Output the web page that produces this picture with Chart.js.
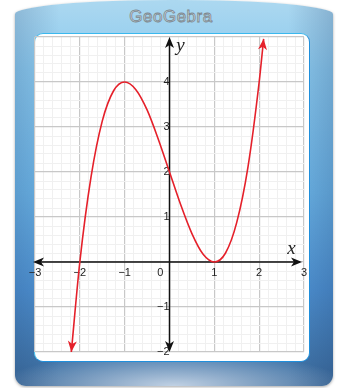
<!DOCTYPE html>
<html>
<head>
<meta charset="utf-8">
<script src="https://cdn.jsdelivr.net/npm/chart.js@4.4.1/dist/chart.umd.min.js"></script>
<style>
  html, body { margin: 0; padding: 0; background: #fff; }
  #wrap { position: relative; width: 342px; height: 388px; overflow: hidden; }
  #frame {
    position: absolute; left: 15px; top: 0; width: 318px; height: 386px;
    border-radius: 159px 159px 11px 11px / 14px 14px 11px 11px;
    background:
      radial-gradient(ellipse 55% 9% at 50% 100%, rgba(200,215,232,0.95), rgba(200,215,232,0)),
      linear-gradient(to right, rgba(20,50,100,0.18), rgba(20,50,100,0) 14%, rgba(20,50,100,0) 86%, rgba(20,50,100,0.22)),
      linear-gradient(to bottom, #acd8f0 0%, #8ccaee 18%, #6cb4e6 50%, #4f92d2 75%, #3d6c9c 100%);
    box-shadow: 0 1px 3px rgba(0,0,0,0.35);
  }
  #panel {
    position: absolute; left: 34px; top: 33px; width: 274px; height: 327px;
    background: #fff; border-radius: 9px;
    border: 1.5px solid; border-color: #3ab8ee #1f8fdc #1f8fdc #4cc6f2;
  }
  #title {
    position: absolute; left: 0; top: 7px; width: 342px; text-align: center;
    font: 17px "Liberation Sans", sans-serif; letter-spacing: 0.5px;
    color: #d2dde3; -webkit-text-stroke: 0.8px #7c878e;
  }
  canvas { position: absolute; left: 0; top: 0; }
</style>
</head>
<body>
<div id="wrap">
  <div id="frame"></div>
  <div id="panel"></div>
  <div id="title">GeoGebra</div>
  <canvas id="chart" width="342" height="388"></canvas>
</div>
<script>
// points
const curveX = [-2.19, -2, -1.75, -1.5, -1.25, -1, -0.75, -0.5, -0.25, 0, 0.25, 0.5, 0.75, 1, 1.25, 1.5, 1.75, 2, 2.1];
const curveY = [-2, 0, 1.89, 3.13, 3.8, 4, 3.83, 3.38, 2.73, 2, 1.27, 0.63, 0.17, 0, 0.2, 0.88, 2.11, 4, 4.96];

// labelled ticks on each axis
const xLabels = [-3, -2, -1, 0, 1, 2, 3];
const yLabels = [-2, -1, 1, 2, 3, 4];

const points = curveX.map((x, i) => ({ x: x, y: curveY[i] }));

const isMajor = v => Math.abs(v - Math.round(v)) < 1e-6;
const minus = v => String(v).replace('-', '\u2212');

function head(ctx, tx, ty, ang, color) {
  const len = 11, half = 4.5, notch = 3;
  ctx.save();
  ctx.translate(tx, ty);
  ctx.rotate(ang);
  ctx.fillStyle = color;
  ctx.beginPath();
  ctx.moveTo(0, 0);
  ctx.lineTo(-len, -half);
  ctx.lineTo(-len + notch, 0);
  ctx.lineTo(-len, half);
  ctx.closePath();
  ctx.fill();
  ctx.restore();
}

const axesPlugin = {
  id: 'axesPlugin',
  beforeDatasetsDraw(chart) {
    const { ctx, chartArea: a, scales: { x, y } } = chart;
    const x0 = x.getPixelForValue(0), y0 = y.getPixelForValue(0);
    ctx.save();
    ctx.strokeStyle = '#111';
    ctx.lineWidth = 1.5;
    ctx.beginPath();
    ctx.moveTo(a.left + 2, y0); ctx.lineTo(a.right - 4, y0);
    ctx.moveTo(x0, a.top + 4); ctx.lineTo(x0, a.bottom - 4);
    ctx.stroke();
    head(ctx, a.left - 2, y0, Math.PI, '#111');
    head(ctx, a.right - 2, y0, 0, '#111');
    head(ctx, x0, a.top, -Math.PI / 2, '#111');
    head(ctx, x0, a.bottom, Math.PI / 2, '#111');
    ctx.fillStyle = '#222';
    ctx.font = 'italic 19px "Liberation Serif", serif';
    ctx.textAlign = 'center';
    ctx.textBaseline = 'alphabetic';
    ctx.fillText('x', x.getPixelForValue(2.72), y0 - 8);
    ctx.fillText('y', x0 + 11, a.top + 14);
    ctx.restore();
  },
  afterDatasetsDraw(chart) {
    const { ctx } = chart;
    const pts = chart.getDatasetMeta(0).data;
    const n = pts.length;
    const a0 = Math.atan2(pts[0].y - pts[1].y, pts[0].x - pts[1].x);
    const a1 = Math.atan2(pts[n - 1].y - pts[n - 2].y, pts[n - 1].x - pts[n - 2].x);
    head(ctx, pts[0].x, pts[0].y, a0, '#e5202a');
    head(ctx, pts[n - 1].x, pts[n - 1].y, a1, '#e5202a');
  }
};

const tickFont = { family: '"Liberation Sans", sans-serif', size: 11 };

new Chart(document.getElementById('chart'), {
  type: 'scatter',
  data: {
    datasets: [{
      data: points,
      showLine: true,
      borderColor: '#e5202a',
      borderWidth: 1.6,
      pointRadius: 0,
      cubicInterpolationMode: 'monotone',
      clip: false
    }]
  },
  options: {
    responsive: false,
    animation: false,
    layout: { padding: { left: 35, top: 37, right: 38, bottom: 36 } },
    plugins: { legend: { display: false }, tooltip: { enabled: false } },
    scales: {
      x: {
        type: 'linear',
        position: { y: 0 },
        min: -3, max: 3,
        border: { display: false },
        grid: {
          drawTicks: false,
          color: c => isMajor(c.tick.value) ? '#c8c8c8' : '#f0f0f0',
          lineWidth: c => isMajor(c.tick.value) ? 1.2 : 1
        },
        ticks: {
          stepSize: 0.2,
          autoSkip: false,
          maxRotation: 0,
          padding: 4,
          color: '#222',
          font: tickFont,
          callback: v => {
            if (!isMajor(v)) return '';
            const r = Math.round(v);
            if (!xLabels.includes(r)) return '';
            return r === 0 ? '0\u2007\u2007\u2007' : minus(r);
          }
        }
      },
      y: {
        type: 'linear',
        position: { x: 0 },
        min: -2, max: 5,
        border: { display: false },
        grid: {
          drawTicks: false,
          color: c => isMajor(c.tick.value) ? '#c8c8c8' : '#f0f0f0',
          lineWidth: c => isMajor(c.tick.value) ? 1.2 : 1
        },
        ticks: {
          stepSize: 0.2,
          autoSkip: false,
          padding: 5,
          color: '#222',
          font: tickFont,
          callback: v => {
            if (!isMajor(v)) return '';
            const r = Math.round(v);
            return yLabels.includes(r) ? minus(r) : '';
          }
        }
      }
    }
  },
  plugins: [axesPlugin]
});
</script>
</body>
</html>
